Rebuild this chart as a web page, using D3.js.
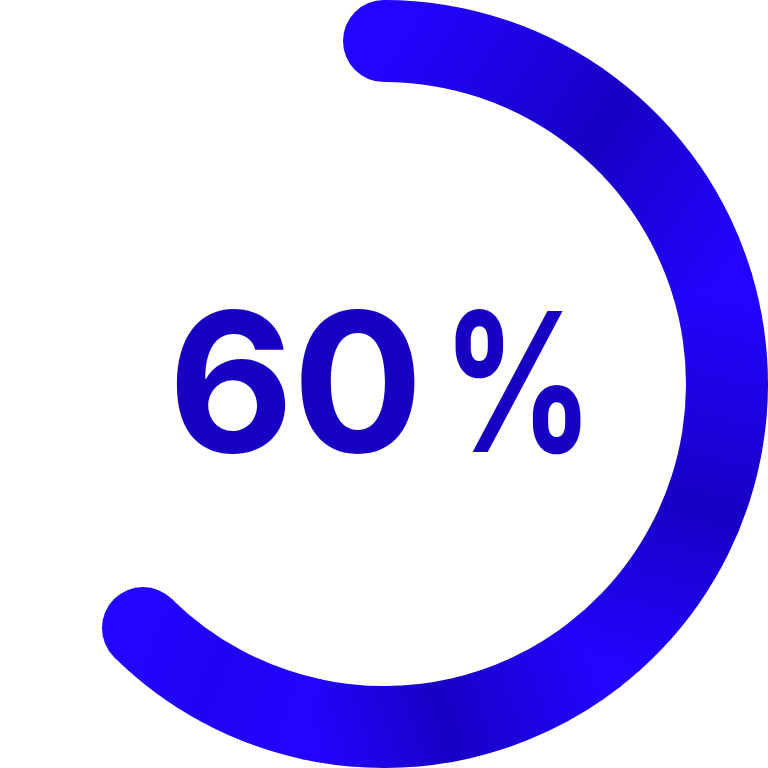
<!DOCTYPE html>
<html><head><meta charset="utf-8">
<script src="https://cdn.jsdelivr.net/npm/d3@7"></script>
<style>html,body{margin:0;padding:0;background:#fff;overflow:hidden}</style>
</head><body>
<svg id="c" width="768" height="768"></svg>
<script>
// ---- data ----
const labels = ["60%"];
const progressValues = [62.4];                   // arc extent, % of full circle
const shadeBreaks = [0, 20.3, 39.4, 53.3, 62.4]; // % positions where the arc shading is brightest

const W = 768, H = 768, cx = 384, cy = 384;
const rOuter = 384, thick = 82, rInner = rOuter - thick, rMid = rOuter - thick / 2;
const bright = "#2304ff", dark = "#1800c4", textColor = "#1800c2";

const svg = d3.select("#c");
const defs = svg.append("defs");
const angle = d3.scaleLinear().domain([0, 100]).range([0, 2 * Math.PI]);
const pt = (a, r) => [r * Math.sin(a), -r * Math.cos(a)];

const g = svg.append("g").attr("transform", `translate(${cx},${cy})`);

// round caps
const aStart = angle(0), aEnd = angle(progressValues[0]);
g.selectAll("circle.cap").data([aStart, aEnd]).join("circle")
  .attr("class", "cap")
  .attr("cx", a => pt(a, rMid)[0]).attr("cy", a => pt(a, rMid)[1])
  .attr("r", thick / 2).attr("fill", bright);

const segs = d3.pairs(shadeBreaks).map(([s, e], i, arr) => ({s, e, i, last: i === arr.length - 1}));
segs.forEach(d => {
  const a0 = angle(d.s), a1 = angle(d.e);
  const p0 = pt(a0, rMid - 12), p1 = pt(a1, rMid + 12);
  const gr = defs.append("linearGradient").attr("id", "gr" + d.i)
    .attr("gradientUnits", "userSpaceOnUse")
    .attr("x1", p0[0]).attr("y1", p0[1]).attr("x2", p1[0]).attr("y2", p1[1]);
  const mid = d.last ? d3.interpolateRgb(bright, dark)(0.2) : dark;
  gr.append("stop").attr("offset", 0).attr("stop-color", bright);
  gr.append("stop").attr("offset", 0.55).attr("stop-color", mid);
  gr.append("stop").attr("offset", 1).attr("stop-color", bright);
});

const arc = d3.arc().innerRadius(rInner).outerRadius(rOuter);
g.selectAll("path.seg").data(segs).join("path")
  .attr("class", "seg")
  .attr("d", d => arc({startAngle: angle(d.s), endAngle: angle(d.e) + (d.last ? 0 : 0.01)}))
  .attr("fill", d => `url(#gr${d.i})`);

// label: each glyph centred on its place in the reference
const glyphCenters = [231, 358, 518];
const chars = Array.from(labels[0]);
svg.selectAll("text.ch").data(chars).join("text")
  .attr("class", "ch")
  .attr("x", (c, i) => glyphCenters[i])
  .attr("y", 452)
  .attr("font-family", "Inter, 'Noto Sans', sans-serif")
  .attr("font-weight", 700).attr("font-size", 194)
  .attr("text-anchor", "middle")
  .attr("fill", textColor)
  .attr("textLength", c => c === "%" ? 152 : null)
  .attr("lengthAdjust", c => c === "%" ? "spacingAndGlyphs" : null)
  .text(c => c);
</script>
</body></html>
